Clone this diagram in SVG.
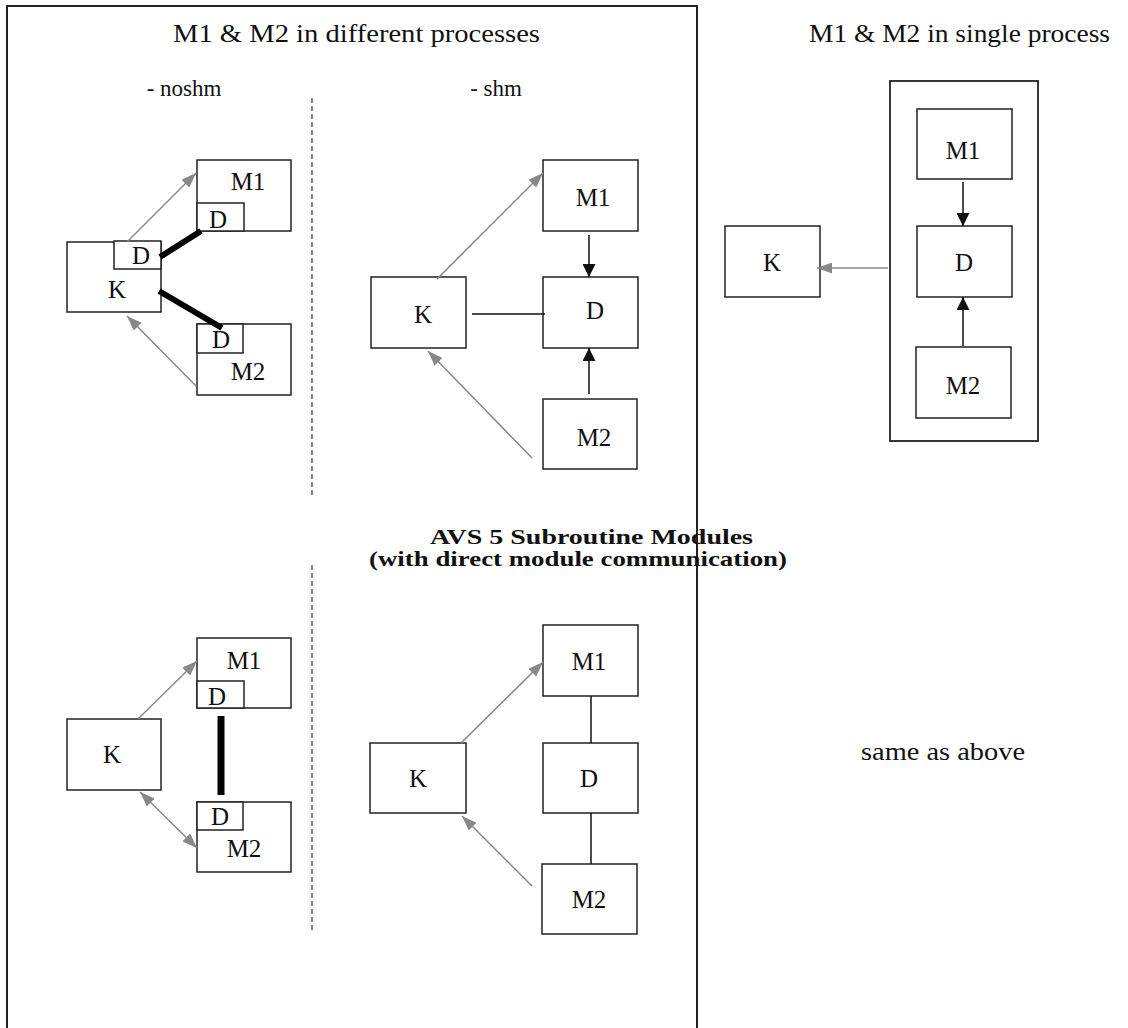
<svg xmlns="http://www.w3.org/2000/svg" width="1128" height="1028" viewBox="0 0 1128 1028">
<style>
  .box { fill: #fff; stroke: #222; stroke-width: 1.5; }
  .frame { fill: none; stroke: #222; stroke-width: 2; }
  .lbl { font-family: "Liberation Serif", "Times New Roman", serif; font-size: 25px; fill: #111; text-anchor: middle; }
  .ttl { font-family: "Liberation Serif", "Times New Roman", serif; font-size: 25px; fill: #111; }
  .sub { font-family: "Liberation Serif", "Times New Roman", serif; font-size: 23px; fill: #111; text-anchor: middle; }
  .bold { font-family: "Liberation Serif", "Times New Roman", serif; font-size: 21px; font-weight: bold; fill: #111; }
  .gray { stroke: #888; stroke-width: 1.5; fill: none; marker-end: url(#ga); }
  .blk { stroke: #111; stroke-width: 1.5; fill: none; marker-end: url(#ba); }
  .plain { stroke: #111; stroke-width: 1.5; fill: none; }
  .thick { stroke: #000; stroke-width: 6; fill: none; }
  .dash { stroke: #333; stroke-width: 1.2; stroke-dasharray: 5 3; fill: none; }
</style>
<defs>
  <marker id="ga" markerUnits="userSpaceOnUse" markerWidth="15" markerHeight="11" refX="15" refY="5.5" orient="auto-start-reverse">
    <path d="M0,0 L15,5.5 L0,11 z" fill="#888"/>
  </marker>
  <marker id="ba" markerUnits="userSpaceOnUse" markerWidth="13" markerHeight="13" refX="13" refY="6.5" orient="auto">
    <path d="M0,0 L13,6.5 L0,13 z" fill="#111"/>
  </marker>
</defs>
<rect width="1128" height="1028" fill="#fff"/>

<g id="frame">
  <path class="frame" d="M7,1040 L7,6 L697,6 L697,1040"/>
  <line class="dash" x1="312" y1="98" x2="312" y2="497"/>
  <line class="dash" x1="312" y1="565" x2="312" y2="932"/>
  <rect class="frame" x="890" y="81" width="148" height="360" style="stroke-width:1.8"/>
</g>

<g id="texts">
  <text class="ttl" x="173" y="42" textLength="367" lengthAdjust="spacingAndGlyphs">M1 &amp; M2 in different processes</text>
  <text class="ttl" x="809" y="42" textLength="301" lengthAdjust="spacingAndGlyphs">M1 &amp; M2 in single process</text>
  <text class="sub" x="184" y="96">- noshm</text>
  <text class="sub" x="496" y="96">- shm</text>
  <text class="bold" x="430" y="544" textLength="323" lengthAdjust="spacingAndGlyphs">AVS 5 Subroutine Modules</text>
  <text class="bold" x="369" y="566" textLength="418" lengthAdjust="spacingAndGlyphs">(with direct module communication)</text>
  <text class="ttl" x="861" y="760" textLength="164" lengthAdjust="spacingAndGlyphs">same as above</text>
</g>

<!-- Top-left: noshm -->
<g id="tl-K"><rect class="box" x="67" y="242" width="94" height="70"/><text class="lbl" x="117" y="298">K</text></g>
<g id="tl-K-D"><rect class="box" x="114" y="241" width="47" height="28"/><text class="lbl" x="141" y="264">D</text></g>
<g id="tl-M1"><rect class="box" x="197" y="160" width="94" height="71"/><text class="lbl" x="248" y="190">M1</text></g>
<g id="tl-M1-D"><rect class="box" x="197" y="203" width="47" height="28"/><text class="lbl" x="218" y="228">D</text></g>
<g id="tl-M2"><rect class="box" x="197" y="324" width="94" height="71"/><text class="lbl" x="248" y="380">M2</text></g>
<g id="tl-M2-D"><rect class="box" x="197" y="324" width="46" height="29"/><text class="lbl" x="221" y="348">D</text></g>

<!-- Top-middle: shm -->
<g id="tm-K"><rect class="box" x="371" y="277" width="95" height="71"/><text class="lbl" x="423" y="323">K</text></g>
<g id="tm-M1"><rect class="box" x="543" y="160" width="95" height="71"/><text class="lbl" x="593" y="206">M1</text></g>
<g id="tm-D"><rect class="box" x="543" y="277" width="95" height="71"/><text class="lbl" x="595" y="319">D</text></g>
<g id="tm-M2"><rect class="box" x="543" y="399" width="94" height="70"/><text class="lbl" x="594" y="446">M2</text></g>

<!-- Top-right: single process -->
<g id="tr-K"><rect class="box" x="725" y="226" width="95" height="71"/><text class="lbl" x="772" y="271">K</text></g>
<g id="tr-M1"><rect class="box" x="917" y="109" width="95" height="70"/><text class="lbl" x="963" y="159">M1</text></g>
<g id="tr-D"><rect class="box" x="917" y="226" width="95" height="71"/><text class="lbl" x="964" y="271">D</text></g>
<g id="tr-M2"><rect class="box" x="916" y="347" width="95" height="71"/><text class="lbl" x="963" y="394">M2</text></g>

<!-- Bottom-left: noshm -->
<g id="bl-K"><rect class="box" x="67" y="719" width="94" height="71"/><text class="lbl" x="112" y="763">K</text></g>
<g id="bl-M1"><rect class="box" x="197" y="638" width="94" height="70"/><text class="lbl" x="244" y="669">M1</text></g>
<g id="bl-M1-D"><rect class="box" x="197" y="681" width="47" height="27"/><text class="lbl" x="217" y="705">D</text></g>
<g id="bl-M2"><rect class="box" x="197" y="802" width="94" height="70"/><text class="lbl" x="244" y="857">M2</text></g>
<g id="bl-M2-D"><rect class="box" x="197" y="802" width="46" height="28"/><text class="lbl" x="220" y="825">D</text></g>

<!-- Bottom-middle: shm -->
<g id="bm-K"><rect class="box" x="370" y="743" width="96" height="70"/><text class="lbl" x="418" y="787">K</text></g>
<g id="bm-M1"><rect class="box" x="543" y="625" width="95" height="71"/><text class="lbl" x="589" y="670">M1</text></g>
<g id="bm-D"><rect class="box" x="543" y="743" width="95" height="70"/><text class="lbl" x="589" y="787">D</text></g>
<g id="bm-M2"><rect class="box" x="542" y="864" width="95" height="70"/><text class="lbl" x="589" y="908">M2</text></g>

<g id="connectors">
  <!-- top-left -->
  <line class="gray" x1="127" y1="242" x2="196" y2="173"/>
  <line class="gray" x1="196" y1="386" x2="127" y2="316"/>
  <line class="thick" x1="160" y1="257" x2="201" y2="231"/>
  <line class="thick" x1="159" y1="291" x2="222" y2="328"/>
  <!-- top-middle -->
  <line class="gray" x1="437" y1="279" x2="543" y2="173"/>
  <line class="gray" x1="532" y1="458" x2="428" y2="351"/>
  <line class="blk" x1="589" y1="235" x2="589" y2="277"/>
  <line class="blk" x1="589" y1="394" x2="589" y2="348"/>
  <line class="plain" x1="472" y1="314" x2="545" y2="314"/>
  <!-- top-right -->
  <line class="blk" x1="963" y1="182" x2="963" y2="226"/>
  <line class="blk" x1="963" y1="346" x2="963" y2="297"/>
  <line class="gray" x1="888" y1="268" x2="817" y2="268"/>
  <!-- bottom-left -->
  <line class="gray" x1="138" y1="719" x2="197" y2="661"/>
  <line class="gray" x1="197" y1="848" x2="140" y2="792" style="marker-start:url(#ga)"/>
  <line class="thick" x1="221" y1="716" x2="221" y2="795" style="stroke-width:7"/>
  <!-- bottom-middle -->
  <line class="plain" x1="591" y1="696" x2="591" y2="743"/>
  <line class="plain" x1="591" y1="813" x2="591" y2="864"/>
  <line class="gray" x1="461" y1="743" x2="543" y2="662"/>
  <line class="gray" x1="532" y1="886" x2="462" y2="816"/>
</g>
</svg>
